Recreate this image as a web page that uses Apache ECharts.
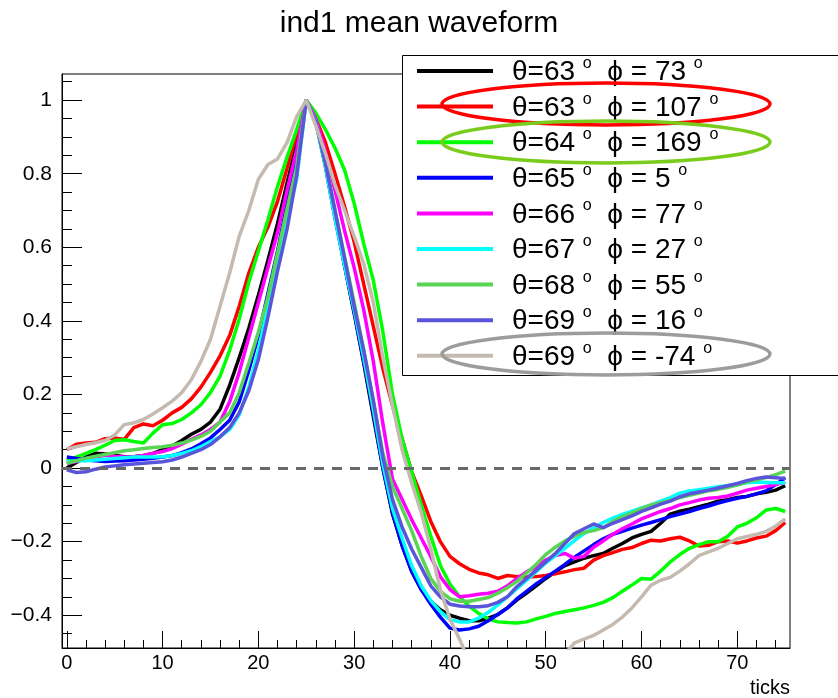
<!DOCTYPE html>
<html><head><meta charset="utf-8">
<script src="https://cdn.jsdelivr.net/npm/echarts@6/dist/echarts.min.js"></script>
<style>html,body{margin:0;padding:0;background:#fff}#c{width:838px;height:698px}</style>
</head><body><div id="c"></div>
<script>
// ---- data ----
const tickIndex = Array.from({length: 76}, (_, i) => i); // sample number (ticks)
const thetaDeg = [63, 63, 64, 65, 66, 67, 68, 69, 69];
const phiDeg   = [73, 107, 169, 5, 77, 27, 55, 16, -74];
const lineColors = ['#000000', '#ff0000', '#00ff00', '#0000ff', '#ff00ff', '#00ffff', '#59d454', '#5954d9', '#c4bab0'];

const black = [
0.000, 0.015, 0.030, 0.040, 0.038, 0.035, 0.031, 0.031, 0.034, 0.040,
0.050, 0.060, 0.075, 0.092, 0.105, 0.125, 0.160, 0.225, 0.300, 0.380,
0.470, 0.565, 0.665, 0.775, 0.880, 1.000, 0.945, 0.825, 0.690, 0.550,
0.420, 0.285, 0.140, 0.000, -0.125, -0.210, -0.280, -0.330, -0.362, -0.385,
-0.400, -0.408, -0.415, -0.415, -0.408, -0.398, -0.380, -0.358, -0.340, -0.320,
-0.300, -0.282, -0.265, -0.255, -0.245, -0.238, -0.232, -0.218, -0.205, -0.190,
-0.180, -0.172, -0.150, -0.125, -0.117, -0.112, -0.105, -0.098, -0.090, -0.086,
-0.080, -0.077, -0.070, -0.066, -0.060, -0.048];

const red = [
0.050, 0.065, 0.068, 0.070, 0.080, 0.082, 0.078, 0.110, 0.120, 0.115,
0.130, 0.150, 0.165, 0.188, 0.220, 0.260, 0.305, 0.360, 0.440, 0.530,
0.600, 0.655, 0.725, 0.815, 0.910, 1.000, 0.950, 0.885, 0.800, 0.710,
0.615, 0.500, 0.385, 0.270, 0.170, 0.080, -0.010, -0.075, -0.145, -0.200,
-0.240, -0.260, -0.275, -0.285, -0.290, -0.300, -0.292, -0.295, -0.296, -0.295,
-0.292, -0.287, -0.282, -0.276, -0.272, -0.250, -0.238, -0.230, -0.221, -0.216,
-0.205, -0.196, -0.198, -0.192, -0.188, -0.198, -0.212, -0.210, -0.200, -0.198,
-0.204, -0.198, -0.190, -0.185, -0.170, -0.148];

const green = [
0.020, 0.030, 0.040, 0.050, 0.062, 0.075, 0.077, 0.072, 0.068, 0.095,
0.118, 0.121, 0.132, 0.150, 0.172, 0.205, 0.250, 0.320, 0.405, 0.505,
0.590, 0.675, 0.765, 0.845, 0.920, 1.000, 0.965, 0.920, 0.870, 0.810,
0.720, 0.610, 0.510, 0.370, 0.200, 0.080, -0.010, -0.100, -0.185, -0.265,
-0.315, -0.350, -0.375, -0.395, -0.410, -0.418, -0.420, -0.421, -0.418, -0.410,
-0.403, -0.395, -0.390, -0.385, -0.380, -0.373, -0.365, -0.352, -0.335, -0.318,
-0.300, -0.302, -0.280, -0.255, -0.235, -0.218, -0.208, -0.200, -0.200, -0.185,
-0.160, -0.150, -0.135, -0.114, -0.110, -0.118];

const blue = [
0.030, 0.026, 0.022, 0.020, 0.018, 0.019, 0.020, 0.022, 0.024, 0.027,
0.030, 0.034, 0.042, 0.052, 0.066, 0.082, 0.105, 0.130, 0.180, 0.265,
0.360, 0.475, 0.590, 0.720, 0.850, 1.000, 0.940, 0.820, 0.680, 0.550,
0.425, 0.290, 0.150, 0.000, -0.120, -0.210, -0.280, -0.330, -0.370, -0.405,
-0.435, -0.440, -0.437, -0.430, -0.415, -0.398, -0.380, -0.355, -0.335, -0.315,
-0.297, -0.280, -0.262, -0.242, -0.225, -0.208, -0.192, -0.180, -0.172, -0.163,
-0.155, -0.148, -0.140, -0.132, -0.125, -0.118, -0.110, -0.103, -0.095, -0.088,
-0.082, -0.077, -0.070, -0.062, -0.045, -0.026];

const magenta = [
0.012, 0.018, 0.025, 0.030, 0.035, 0.032, 0.030, 0.031, 0.034, 0.040,
0.045, 0.053, 0.065, 0.078, 0.090, 0.105, 0.125, 0.180, 0.260, 0.355,
0.450, 0.545, 0.640, 0.755, 0.865, 1.000, 0.950, 0.860, 0.755, 0.645,
0.545, 0.430, 0.290, 0.120, -0.030, -0.085, -0.140, -0.190, -0.240, -0.295,
-0.330, -0.350, -0.347, -0.343, -0.340, -0.335, -0.320, -0.300, -0.282, -0.268,
-0.250, -0.238, -0.232, -0.245, -0.240, -0.215, -0.198, -0.180, -0.165, -0.152,
-0.138, -0.128, -0.118, -0.110, -0.100, -0.094, -0.087, -0.082, -0.080, -0.076,
-0.068, -0.060, -0.055, -0.050, -0.045, -0.038];

const cyan = [
0.017, 0.020, 0.020, 0.022, 0.024, 0.026, 0.028, 0.030, 0.030, 0.030,
0.031, 0.034, 0.040, 0.047, 0.058, 0.072, 0.085, 0.105, 0.145, 0.220,
0.320, 0.440, 0.560, 0.680, 0.785, 1.000, 0.940, 0.820, 0.680, 0.550,
0.430, 0.300, 0.160, 0.010, -0.110, -0.190, -0.265, -0.320, -0.360, -0.390,
-0.412, -0.418, -0.418, -0.408, -0.392, -0.372, -0.350, -0.328, -0.305, -0.282,
-0.258, -0.238, -0.218, -0.197, -0.178, -0.162, -0.148, -0.136, -0.126, -0.117,
-0.108, -0.100, -0.090, -0.080, -0.068, -0.062, -0.059, -0.055, -0.051, -0.047,
-0.044, -0.040, -0.038, -0.039, -0.040, -0.040];

const lightGreen = [
0.013, 0.020, 0.027, 0.032, 0.037, 0.042, 0.047, 0.050, 0.053, 0.056,
0.058, 0.062, 0.068, 0.076, 0.086, 0.100, 0.125, 0.150, 0.205, 0.285,
0.370, 0.465, 0.585, 0.705, 0.820, 1.000, 0.940, 0.830, 0.700, 0.575,
0.450, 0.320, 0.180, 0.040, -0.050, -0.110, -0.170, -0.240, -0.300, -0.335,
-0.355, -0.362, -0.362, -0.357, -0.352, -0.340, -0.325, -0.308, -0.285, -0.262,
-0.235, -0.215, -0.198, -0.185, -0.175, -0.170, -0.162, -0.145, -0.132, -0.122,
-0.110, -0.100, -0.094, -0.088, -0.080, -0.074, -0.068, -0.062, -0.058, -0.052,
-0.046, -0.038, -0.032, -0.026, -0.018, -0.008];

const slateBlue = [
-0.005, -0.012, -0.010, -0.003, 0.003, 0.006, 0.009, 0.011, 0.013, 0.015,
0.017, 0.022, 0.030, 0.040, 0.050, 0.064, 0.085, 0.110, 0.150, 0.210,
0.295, 0.410, 0.535, 0.650, 0.795, 1.000, 0.940, 0.830, 0.700, 0.570,
0.440, 0.320, 0.185, 0.030, -0.085, -0.160, -0.220, -0.270, -0.320, -0.350,
-0.370, -0.375, -0.377, -0.377, -0.374, -0.365, -0.350, -0.322, -0.300, -0.278,
-0.255, -0.232, -0.205, -0.178, -0.165, -0.152, -0.162, -0.150, -0.140, -0.130,
-0.118, -0.108, -0.098, -0.090, -0.078, -0.070, -0.065, -0.060, -0.054, -0.048,
-0.042, -0.034, -0.028, -0.024, -0.026, -0.028];

const gray = [
0.052, 0.058, 0.064, 0.069, 0.075, 0.090, 0.118, 0.123, 0.132, 0.147,
0.164, 0.182, 0.205, 0.240, 0.290, 0.350, 0.440, 0.530, 0.630, 0.700,
0.785, 0.825, 0.840, 0.885, 0.955, 1.000, 0.930, 0.855, 0.770, 0.700,
0.630, 0.555, 0.450, 0.300, 0.170, 0.050, -0.040, -0.120, -0.220, -0.330,
-0.410, -0.465, -0.525, -0.565, -0.595, -0.610, -0.615, -0.610, -0.600, -0.580,
-0.560, -0.540, -0.505, -0.475, -0.465, -0.455, -0.440, -0.425, -0.405, -0.380,
-0.350, -0.318, -0.305, -0.297, -0.280, -0.260, -0.238, -0.228, -0.218, -0.205,
-0.192, -0.186, -0.180, -0.172, -0.158, -0.138];

const seriesValues = [black, red, green, blue, magenta, cyan, lightGreen, slateBlue, gray];

const xMajorTicks = [0, 10, 20, 30, 40, 50, 60, 70];
const yMajorTicks = [-0.4, -0.2, 0, 0.2, 0.4, 0.6, 0.8, 1];
const xRange = [-0.5, 75.5];
const yRange = [-0.489, 1.071];

// ---- build ----
const xMinorTicks = []; for (let v = 0; v <= 74; v += 2) xMinorTicks.push(v);
const yMinorTicks = []; for (let k = -9; k <= 21; k++) yMinorTicks.push(+(k * 0.05).toFixed(2));

const FONT = '"Liberation Sans", Arial, Helvetica, sans-serif';
const names = thetaDeg.map((t, i) => 'θ=' + t + '° ϕ=' + phiDeg[i] + '°');

const fmtY = v => {
  const r = Math.round(v * 10) / 10;
  if (r === 0) return '0';
  return (r < 0 ? '\u2212' : '') + String(Math.abs(r));
};

const chart = echarts.init(document.getElementById('c'), null, {renderer: 'canvas'});

const baseX = {
  type: 'value', min: xRange[0], max: xRange[1], gridIndex: 0, position: 'bottom',
  splitLine: {show: false}
};
const baseY = {
  type: 'value', min: yRange[0], max: yRange[1], gridIndex: 0, position: 'left',
  splitLine: {show: false}
};

const series = seriesValues.map((vals, i) => ({
  name: names[i], type: 'line', xAxisIndex: 0, yAxisIndex: 0,
  data: tickIndex.map((t, j) => [t, vals[j]]),
  showSymbol: false, symbol: 'none', clip: true,
  lineStyle: {color: lineColors[i], width: 3.5},
  itemStyle: {color: lineColors[i]},
  emphasis: {disabled: true}, animation: false
}));
series[series.length - 1].markLine = {
  silent: true, symbol: ['none', 'none'], animation: false,
  label: {show: false},
  lineStyle: {color: '#686868', width: 3, type: [10, 8]},
  data: [{yAxis: 0}]
};

const option = {
  animation: false,
  backgroundColor: '#ffffff',
  title: {
    text: 'ind1 mean waveform', left: 'center', top: 4,
    textStyle: {fontFamily: FONT, fontSize: 30, fontWeight: 'normal', color: '#000'}
  },
  grid: {left: 62, right: 48, top: 74, bottom: 50, show: true, borderColor: '#000', borderWidth: 1,
         containLabel: false, outerBoundsMode: 'none'},
  xAxis: [
    Object.assign({}, baseX, {
      axisLine: {show: true, onZero: false, lineStyle: {color: '#000', width: 1}},
      axisTick: {show: true, inside: true, length: 17, customValues: xMajorTicks, lineStyle: {color: '#000', width: 1}},
      axisLabel: {show: true, customValues: xMajorTicks, margin: 5, color: '#000', fontFamily: FONT, fontSize: 20},
      name: 'ticks', nameLocation: 'end', nameGap: 0,
      nameTextStyle: {align: 'right', verticalAlign: 'top', padding: [30, 0, 0, 0], color: '#000', fontFamily: FONT, fontSize: 20}
    }),
    Object.assign({}, baseX, {
      axisLine: {show: false, onZero: false},
      axisTick: {show: true, inside: true, length: 8, customValues: xMinorTicks, lineStyle: {color: '#000', width: 1}},
      axisLabel: {show: false}
    })
  ],
  yAxis: [
    Object.assign({}, baseY, {
      axisLine: {show: true, onZero: false, lineStyle: {color: '#000', width: 1}},
      axisTick: {show: true, inside: true, length: 20, customValues: yMajorTicks, lineStyle: {color: '#000', width: 1}},
      axisLabel: {show: true, customValues: yMajorTicks, margin: 10, color: '#000', fontFamily: FONT, fontSize: 21, formatter: fmtY}
    }),
    Object.assign({}, baseY, {
      axisLine: {show: false, onZero: false},
      axisTick: {show: true, inside: true, length: 10, customValues: yMinorTicks, lineStyle: {color: '#000', width: 1}},
      axisLabel: {show: false}
    })
  ],
  legend: {
    orient: 'vertical', left: 417, top: 55.5, padding: 0, z: 50,
    itemWidth: 76, itemHeight: 4, itemGap: 4.6, icon: 'rect', selectedMode: false,
    data: names,
    formatter: name => {
      const i = names.indexOf(name);
      return '{sp|}{a|θ=' + thetaDeg[i] + ' }{o|o}{a|  ϕ = ' + phiDeg[i] + ' }{o|o}';
    },
    textStyle: {
      fontFamily: FONT, fontSize: 28, color: '#000',
      rich: {
        sp: {width: 14, verticalAlign: 'top'},
        a: {fontFamily: FONT, fontSize: 28, color: '#000', verticalAlign: 'top', padding: [3, 0, 0, 0]},
        o: {fontFamily: FONT, fontSize: 16, color: '#000', verticalAlign: 'top'}
      }
    }
  },
  graphic: [
    {type: 'rect', z: 40, shape: {x: 402.5, y: 55.5, width: 460, height: 320},
     style: {fill: '#ffffff', stroke: '#000000', lineWidth: 1}},
    {type: 'ellipse', z: 60, shape: {cx: 606, cy: 104, rx: 164, ry: 21},
     style: {fill: 'none', stroke: '#ff0000', lineWidth: 3.5}},
    {type: 'ellipse', z: 60, shape: {cx: 606, cy: 142, rx: 164, ry: 21},
     style: {fill: 'none', stroke: '#7acc1c', lineWidth: 3.5}},
    {type: 'ellipse', z: 60, shape: {cx: 606, cy: 354, rx: 164, ry: 21},
     style: {fill: 'none', stroke: '#9c9c9c', lineWidth: 3.5}}
  ],
  series: series
};
chart.setOption(option);
</script>
</body></html>
